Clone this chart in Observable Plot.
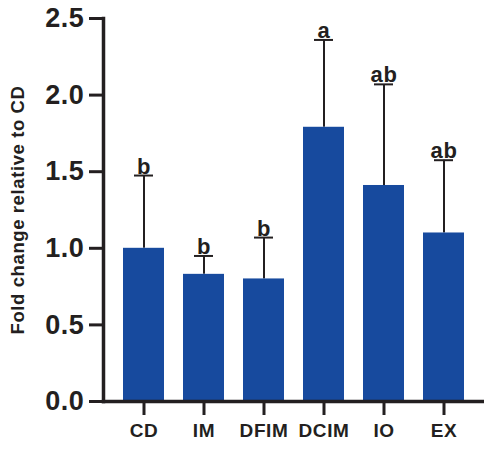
<!DOCTYPE html>
<html>
<head>
<meta charset="utf-8">
<script src="https://cdn.jsdelivr.net/npm/d3@7"></script>
<script src="https://cdn.jsdelivr.net/npm/@observablehq/plot@0.6"></script>
<style>
  html, body { margin: 0; padding: 0; background: #fff; }
  svg text { letter-spacing: 0.6px; }
</style>
</head>
<body>
<div id="chart"></div>
<script>
const categories = ["CD", "IM", "DFIM", "DCIM", "IO", "EX"];
const means = [1.0, 0.83, 0.80, 1.79, 1.41, 1.10];
const upper = [1.475, 0.95, 1.07, 2.36, 2.07, 1.575];
const letters = ["b", "b", "b", "a", "ab", "ab"];
const yTicks = [0, 0.5, 1.0, 1.5, 2.0, 2.5];
const yLabel = "Fold change relative to CD";

const data = categories.map((c, i) => ({cat: c, mean: means[i], upper: upper[i], letter: letters[i]}));
const ink = "#231f20";
const font = "'Liberation Sans', Arial, sans-serif";

const chart = Plot.plot({
  width: 484,
  height: 450,
  marginLeft: 103,
  marginRight: 0,
  marginTop: 18,
  marginBottom: 49,
  style: {fontFamily: font, fontWeight: "bold", color: ink, background: "#fff"},
  x: {domain: categories, paddingInner: 0.32, paddingOuter: 0.315},
  y: {domain: [0, 2.5]},
  marks: [
    Plot.ruleX(data, {x: "cat", y1: "mean", y2: "upper", stroke: ink, strokeWidth: 2}),
    Plot.tickY(data, {x: "cat", y: "upper", stroke: ink, strokeWidth: 2, insetLeft: 11, insetRight: 11}),
    Plot.barY(data, {x: "cat", y: "mean", fill: "#174a9e"}),
    Plot.text(data, {x: "cat", y: "upper", text: "letter", lineAnchor: "bottom", dy: -2, fontSize: 22, fontWeight: "bold", fill: ink}),
    Plot.frame({anchor: "left", stroke: ink, strokeWidth: 3.5}),
    Plot.frame({anchor: "bottom", stroke: ink, strokeWidth: 3.5}),
    Plot.axisY({ticks: yTicks, tickFormat: d3.format(".1f"), tickSize: 14, tickPadding: 5, strokeWidth: 3, fontSize: 27, fontWeight: "bold", label: null, color: ink}),
    Plot.axisX({tickSize: 14, tickPadding: 8, strokeWidth: 3, fontSize: 19, fontWeight: "bold", label: null, color: ink}),
    Plot.text([yLabel], {frameAnchor: "left", textAnchor: "middle", rotate: -90, dx: -85, fontSize: 18.5, fontWeight: "bold", fill: ink})
  ]
});
document.getElementById("chart").appendChild(chart);
</script>
</body>
</html>
